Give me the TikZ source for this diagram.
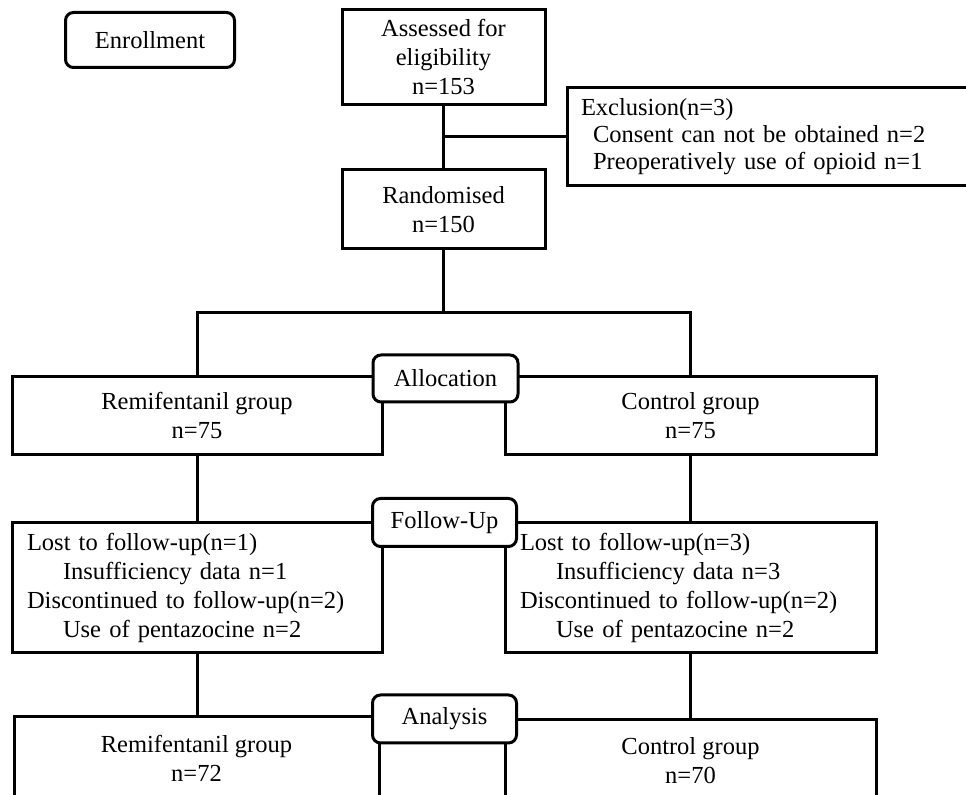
\documentclass[tikz,border=0pt]{standalone}
\usepackage{fontspec}
\setmainfont{Liberation Serif}
\begin{document}
\begin{tikzpicture}[x=0.5pt,y=-0.5pt,font=\fontsize{12.25}{14.5}\selectfont]
  \tikzstyle{box}=[draw=black,line width=1.5pt,fill=white,align=center,inner sep=0pt]
  \tikzstyle{listbox}=[box,align=left,inner xsep=7.5pt,text width=170pt]
  \tikzstyle{stage}=[draw=black,line width=1.5pt,fill=white,rounded corners=4pt,minimum width=72pt,minimum height=24pt,inner sep=0pt]
  \tikzstyle{edge}=[draw,line width=1.5pt]
  \useasboundingbox (0,0) rectangle (966,795);
  \clip (0,0) rectangle (966,795);
  % enrollment
  \node [stage,minimum width=84.5pt,minimum height=27.5pt] (enroll) at (150,40) {Enrollment};
  \node [box,minimum width=101.5pt,minimum height=47.5pt] (assess) at (443.5,57.5) {Assessed for\\eligibility\\n=153};
  \node [box,align=left,inner xsep=7pt,text width=195pt,minimum height=49pt] (excl) at (776,137)
    {Exclusion(n=3)\\[-1pt]\hspace*{6pt}Consent can not be obtained n=2\\[-1pt]\hspace*{6pt}Preoperatively use of opioid n=1};
  \node [box,minimum width=101.5pt,minimum height=39.5pt] (rand) at (443.5,209.5) {Randomised\\n=150};
  \coordinate (split) at (443.5,313);
  % allocation
  \node [box,minimum width=185pt,minimum height=39pt] (lgrp) at (197,416) {Remifentanil group\\n=75};
  \node [box,minimum width=185.5pt,minimum height=39pt] (rgrp) at (690.5,416) {Control group\\n=75};
  % follow-up
  \node [listbox,minimum height=65pt] (lfol) at (197,588)
    {Lost to follow-up(n=1)\\\hspace*{18pt}Insufficiency data n=1\\Discontinued to follow-up(n=2)\\\hspace*{18pt}Use of pentazocine n=2};
  \node [listbox,text width=170.5pt,minimum height=65pt] (rfol) at (690.5,588)
    {Lost to follow-up(n=3)\\\hspace*{18pt}Insufficiency data n=3\\Discontinued to follow-up(n=2)\\\hspace*{18pt}Use of pentazocine n=2};
  % analysis
  \node [box,minimum width=182.5pt,minimum height=41pt] (lana) at (196.5,758) {Remifentanil group\\n=72};
  \node [box,minimum width=185.5pt,minimum height=41pt] (rana) at (690.5,761) {Control group\\n=70};
  % connectors
  \path[edge] (assess) -- (rand);
  \path[edge] (excl.west) -- (excl.west -| assess.south);
  \path[edge] (rand) -- (split);
  \path[edge] (lgrp.north) |- (split) -| (rgrp.north);
  \path[edge] (lgrp.south) -- (lgrp.south |- lfol.north);
  \path[edge] (rgrp.south) -- (rgrp.south |- rfol.north);
  \path[edge] (lfol.south) -- (lfol.south |- lana.north);
  \path[edge] (rfol.south) -- (rfol.south |- rana.north);
  % stage labels
  \node [stage,minimum width=72.5pt,minimum height=23.5pt] (alloc) at (445.5,378.5) {Allocation};
  \node [stage] (follow) at (444.5,522.5) {Follow-Up};
  \node [stage] (analysis) at (444.5,719) {Analysis};
\end{tikzpicture}
\end{document}
